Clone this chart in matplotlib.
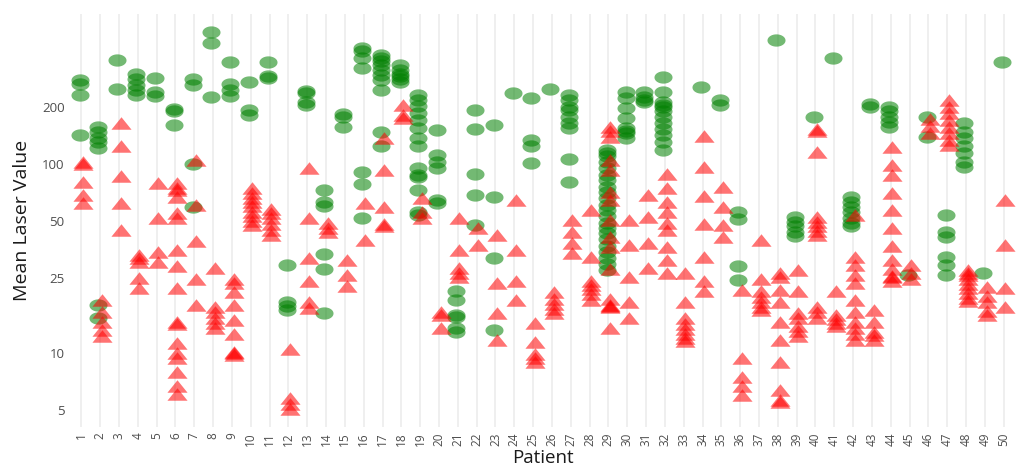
import numpy as np
import matplotlib
matplotlib.use('Agg')
import matplotlib.pyplot as plt

plt.rcParams['font.family'] = ['Open Sans', 'DejaVu Sans']

# Patient ids on the x axis
patients = list(range(1, 51))

# Mean laser values per patient, green circles
green_vals = [
    [278, 264, 232, 142],                                   # 1
    [156, 148, 138, 130, 122, 18.1, 15.4],                  # 2
    [354, 249],                                             # 3
    [298, 280, 262, 246, 232],                              # 4
    [286, 240, 230],                                        # 5
    [196, 190, 161],                                        # 6
    [281, 261, 100, 59],                                    # 7
    [499, 434, 227],                                        # 8
    [346, 264, 246, 229],                                   # 9
    [270, 192, 182],                                        # 10
    [346, 292, 284],                                        # 11
    [29.2, 18.7, 17.8, 17],                                 # 12
    [242, 236, 212, 206],                                   # 13
    [73, 63, 60, 33.6, 28, 16.3],                           # 14
    [183, 178, 156],                                        # 15
    [408, 395, 362, 322, 91, 78, 52],                       # 16
    [376, 362, 350, 333, 314, 295, 278, 246, 148, 124],     # 17
    [333, 314, 300, 291, 280, 270],                         # 18
    [232, 218, 202, 186, 171, 155, 137, 124, 95, 88, 85, 73, 56, 54],  # 19
    [151, 112, 103, 95, 64.6, 62],                          # 20
    [21.3, 19.1, 16, 15.5, 13.6, 13],                       # 21
    [193, 153, 89, 69, 47.5],                               # 22
    [161, 67, 32, 13.3],                                    # 23
    [237],                                                  # 24
    [222, 134, 125, 101],                                   # 25
    [249],                                                  # 26
    [232, 218, 200, 193, 177, 165, 155, 106, 80],           # 27
    [],                                                     # 28
    [119, 114, 110, 102, 95, 88, 82, 76, 71, 66, 61, 57, 53,
     49, 46, 43, 40, 37, 34.5, 32, 29.8, 27.6],             # 29
    [240, 223, 198, 175, 155, 150, 146, 137],               # 30
    [240, 225, 218, 212],                                   # 31
    [288, 240, 212, 205, 200, 190, 177, 165, 153, 143, 130, 119],  # 32
    [],                                                     # 33
    [255],                                                  # 34
    [218, 205],                                             # 35
    [56, 51, 29, 24.5],                                     # 36
    [],                                                     # 37
    [452],                                                  # 38
    [52.5, 49.6, 47, 44, 41.5],                             # 39
    [177],                                                  # 40
    [362],                                                  # 41
    [67, 63, 59, 56, 52, 49, 47],                           # 42
    [208, 200],                                             # 43
    [200, 190, 178, 167, 157],                              # 44
    [25.9],                                                 # 45
    [177, 139],                                             # 46
    [54, 43.5, 41, 32.2, 29.2, 25.9],                       # 47
    [165, 148, 137, 124, 114, 102, 96],                     # 48
    [26.5],                                                 # 49
    [346],                                                  # 50
]

# red triangles
red_vals = [
    [102, 100, 80, 69, 62],                                 # 1
    [19.1, 16.5, 14.7, 13.3, 12.3],                         # 2
    [165, 124, 86, 62, 44.8],                               # 3
    [33, 32, 30.5, 25, 22],                                 # 4
    [79, 51.8, 34.3, 30.2],                                 # 5
    [79, 75, 73, 67, 55, 51.8, 35.1, 29, 22, 14.7, 14.3,
     11.3, 10, 9.5, 8.0, 6.7, 6.1],                         # 6
    [105, 61, 39, 24.6, 18.1],                              # 7
    [28.4, 17.6, 16.5, 15.4, 14.5, 13.6],                   # 8
    [24.6, 23.5, 21.1, 18.1, 15, 12.6, 10.2, 10, 9.8],      # 9
    [75, 70, 66, 63, 60, 56, 53, 50, 47.5],                 # 10
    [58, 55, 52, 48.5, 45, 42],                             # 11
    [10.5, 5.8, 5.4, 5.1],                                  # 12
    [95, 52, 32, 24.2, 18.7, 17.4],                         # 13
    [49, 46, 43.5],                                         # 14
    [31, 25.9, 22.8],                                       # 15
    [62, 39.7],                                             # 16
    [137, 93, 59, 48, 47],                                  # 17
    [205, 181, 175],                                        # 18
    [66, 56, 52],                                           # 19
    [16.5, 16, 13.6],                                       # 20
    [52, 35, 28.4, 26.5, 25.4],                             # 21
    [46, 37.5],                                             # 22
    [42, 23.5, 16.3, 11.8],                                 # 23
    [64.6, 35, 24, 19.1],                                   # 24
    [14.5, 11.5, 9.9, 9.5, 9.0],                            # 25
    [21.2, 19.3, 18.2, 17.2, 16.3],                         # 26
    [50.6, 43.6, 38.3, 34],                                 # 27
    [57, 32.2, 24.2, 23, 21.8, 20.5, 19.2],                 # 28
    [156, 150, 139, 105, 93, 71, 64.6, 50.6, 41, 36.5, 28,
     19.4, 18.1, 17.8, 17.5, 13.6],                         # 29
    [50.6, 37.5, 25.4, 18.7, 15.4],                         # 30
    [69, 52.5, 38.3, 28.4],                                 # 31
    [89, 75, 63, 55.5, 49, 45, 36.5, 31, 26.5],             # 32
    [26.5, 18.7, 15.4, 14.3, 13.4, 12.7, 12.1, 11.6],       # 33
    [141, 96, 68, 48, 32.2, 24.2, 21.3],                    # 34
    [76, 59, 47.5, 41],                                     # 35
    [21.6, 9.4, 7.5, 6.7, 6.0],                             # 36
    [39.7, 24.6, 21.3, 19.8, 18.6, 17.6, 17],               # 37
    [26.5, 25.4, 21.6, 18.7, 14.7, 11.8, 9.0, 6.4, 5.7, 5.5],  # 38
    [27.6, 21.3, 16.3, 15.4, 14.0, 13.1, 12.3],             # 39
    [153, 150, 116, 52.5, 49.5, 47, 44.5, 42, 17.6, 16.5, 15.4],  # 40
    [21.3, 16.0, 15.2, 14.5, 13.9],                         # 41
    [54, 32.2, 29.2, 25.9, 23.5, 19.1, 16.5, 14.7, 13.6, 12.6, 11.8],  # 42
    [17, 14.7, 13, 12.5, 11.8],                             # 43
    [123, 99, 87, 70.5, 57, 46, 37, 31, 28, 25.6, 25.2, 24.2],  # 44
    [29.2, 26.5, 24.6],                                     # 45
    [172, 158, 146],                                        # 46
    [218, 200, 186, 171, 157, 145, 134, 126],               # 47
    [27.6, 26.5, 26, 24.6, 23.3, 22, 20.8, 19.6, 18.8],     # 48
    [22.5, 20.2, 18.7, 16.8, 16],                           # 49
    [64.6, 37.5, 22, 17.6],                                 # 50
]

y_ticks = [5, 10, 25, 50, 100, 200]

GREEN = '#008000'
RED = '#ff0000'
GRID = '#ebebeb'
TICK_COLOR = '#4d4d4d'

# flattened point shapes, as in the picture
t = np.linspace(0, 2 * np.pi, 64)
ellipse = np.column_stack([np.cos(t), 0.68 * np.sin(t)])
triangle = np.array([[-1, -0.62], [1, -0.62], [0, 0.62], [-1, -0.62]])

fig = plt.figure(figsize=(10.19, 4.72), dpi=100)
ax = fig.add_axes([0.0687, 0.0953, 0.9274, 0.875])

for p, vals in zip(patients, green_vals):
    ax.plot([p - 0.09] * len(vals), vals, linestyle='none', marker=ellipse,
            ms=13, color=GREEN, alpha=0.55, mew=0, zorder=3)
for p, vals in zip(patients, red_vals):
    ax.plot([p + 0.09] * len(vals), vals, linestyle='none', marker=triangle,
            ms=14.5, color=RED, alpha=0.55, mew=0, zorder=3)

ax.set_yscale('log')
ax.set_ylim(4.08, 620)
ax.set_xlim(0.4, 50.6)
ax.set_yticks(y_ticks)
ax.set_yticklabels([str(v) for v in y_ticks])
ax.yaxis.set_minor_locator(matplotlib.ticker.NullLocator())
ax.set_xticks(patients)
ax.set_xticklabels([str(p) for p in patients], rotation=90)

ax.tick_params(axis='both', length=0, colors=TICK_COLOR)
ax.tick_params(axis='y', labelsize=9.5, pad=4)
ax.tick_params(axis='x', labelsize=8.5, pad=4)

for s in ax.spines.values():
    s.set_visible(False)
ax.xaxis.grid(True, color=GRID, linewidth=1.1)
ax.set_axisbelow(True)

ax.set_xlabel('Patient', fontsize=13.5, color='#1a1a1a', labelpad=2)
ax.set_ylabel('Mean Laser Value', fontsize=14, color='#1a1a1a', labelpad=8)

fig.savefig('out.png', dpi=100, facecolor='white')
